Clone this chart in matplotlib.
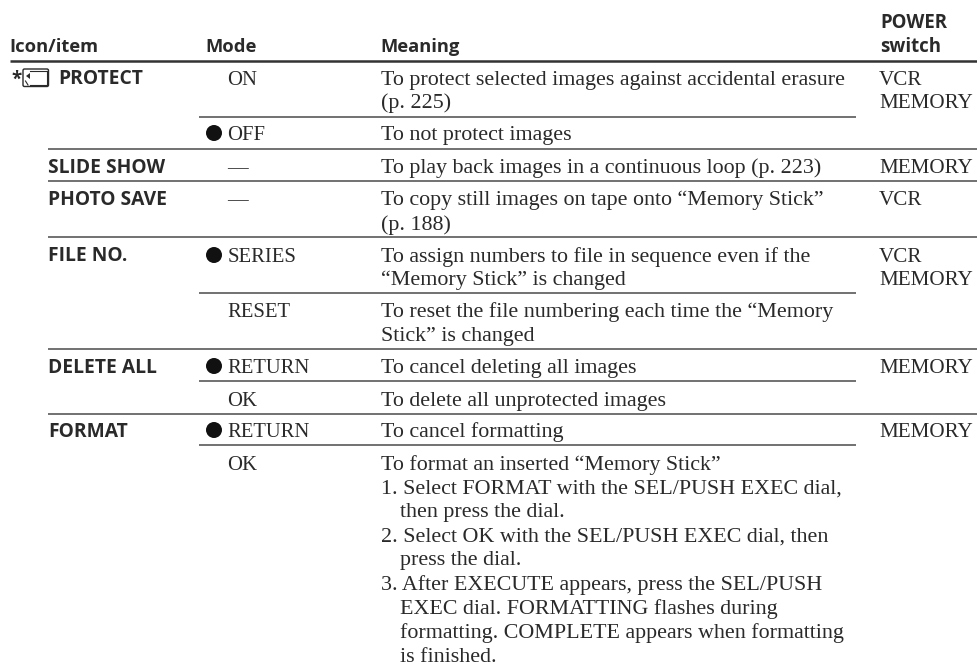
import matplotlib
matplotlib.use("Agg")
import matplotlib.pyplot as plt
from matplotlib.patches import FancyBboxPatch, Circle, Polygon

W, H = 978, 666
INK = "#2a2a2a"
RULE = "#4a4a4a"
SERIF = ["Liberation Serif", "DejaVu Serif"]
SANS = ["Open Sans", "DejaVu Sans"]

# ---- table content ----
headers = ["Icon/item", "Mode", "Meaning"]
power_header = ["POWER", "switch"]
items = ["PROTECT", "SLIDE SHOW", "PHOTO SAVE", "FILE NO.", "DELETE ALL", "FORMAT"]
modes = ["ON", "OFF", "—", "—", "SERIES", "RESET", "RETURN", "OK", "RETURN", "OK"]
mode_default = [False, True, False, False, True, False, True, False, True, False]
meanings = [
    "To protect selected images against accidental erasure",
    "(p. 225)",
    "To not protect images",
    "To play back images in a continuous loop (p. 223)",
    "To copy still images on tape onto “Memory Stick”",
    "(p. 188)",
    "To assign numbers to file in sequence even if the",
    "“Memory Stick” is changed",
    "To reset the file numbering each time the “Memory",
    "Stick” is changed",
    "To cancel deleting all images",
    "To delete all unprotected images",
    "To cancel formatting",
    "To format an inserted “Memory Stick”",
    "1. Select FORMAT with the SEL/PUSH EXEC dial,",
    "then press the dial.",
    "2. Select OK with the SEL/PUSH EXEC dial, then",
    "press the dial.",
    "3. After EXECUTE appears, press the SEL/PUSH",
    "EXEC dial. FORMATTING flashes during",
    "formatting. COMPLETE appears when formatting",
    "is finished.",
]
powers = ["VCR", "MEMORY", "MEMORY", "VCR", "VCR", "MEMORY", "MEMORY", "MEMORY"]

# ---- layout (pixels, baselines) ----
header_x = [9.5, 205.5, 380.5]
item_x = [58, 48, 48, 48, 48, 48]
item_base = [84, 173, 205, 261, 373, 437]
mode_base = [85, 140, 173, 205, 262, 317, 373, 406, 437, 470]
meaning_base = [85, 108, 140, 173, 205, 230, 262, 285, 317, 341, 373, 406, 437,
                470, 494, 517, 542, 565, 590, 614, 638, 662]
meaning_x = [381] * 15 + [400] + [381] + [400] + [381] + [400] * 3
power_base = [85, 108, 173, 205, 262, 285, 373, 437]
full_rules = [149, 181, 237, 349, 414]
sub_rules = [117, 293, 381, 445]

fig = plt.figure(figsize=(W / 100, H / 100), dpi=100)
ax = fig.add_axes([0, 0, 1, 1])
ax.set_xlim(0, W)
ax.set_ylim(H, 0)
ax.axis("off")

serif = dict(family=SERIF, color=INK, va="baseline")
sans = dict(family=SANS, weight="bold", color=INK, va="baseline")

for t, x in zip(headers, header_x):
    ax.text(x, 52, t, fontsize=13.2, **sans)
for t, y in zip(power_header, [28, 52]):
    ax.text(880.5, y, t, fontsize=13.4, **sans)
for t, x, y in zip(items, item_x, item_base):
    ax.text(x, y, t, fontsize=13.9, **sans)

# protect marker
ax.text(11, 85, "*", family=SANS, weight="bold", fontsize=13.5, color=INK, va="baseline")
ax.add_patch(FancyBboxPatch((23, 69), 25.5, 17.5, boxstyle="round,pad=0,rounding_size=1.5",
                            fc="white", ec=INK, lw=1.0))
ax.plot([30, 47], [71, 71], color=INK, lw=0.8)
ax.plot([47, 47], [71, 85], color=INK, lw=0.8)
ax.plot([30, 47], [85, 85], color=INK, lw=0.8)
ax.add_patch(Polygon([[26, 76], [30, 73], [30, 79]], closed=True, fc=INK, ec="none"))
ax.plot([25.5, 28], [81, 85], color=INK, lw=0.8)

for t, y, dot in zip(modes, mode_base, mode_default):
    ax.text(227.5, y, t, fontsize=14.9, **serif)
    if dot:
        ax.add_patch(Circle((214, y - 7), 8, fc="#111111", ec="none"))
for t, x, y in zip(meanings, meaning_x, meaning_base):
    ax.text(x, y, t, fontsize=15.85, **serif)
for t, y in zip(powers, power_base):
    ax.text(879, y, t, fontsize=15.2, **serif)

ax.plot([10, 978], [61, 61], color="#333333", lw=1.8, solid_capstyle="butt")
for y in full_rules:
    ax.plot([48, 978], [y, y], color=RULE, lw=1.1, solid_capstyle="butt")
for y in sub_rules:
    ax.plot([199, 856], [y, y], color=RULE, lw=1.1, solid_capstyle="butt")

fig.savefig("out.png", dpi=100)
